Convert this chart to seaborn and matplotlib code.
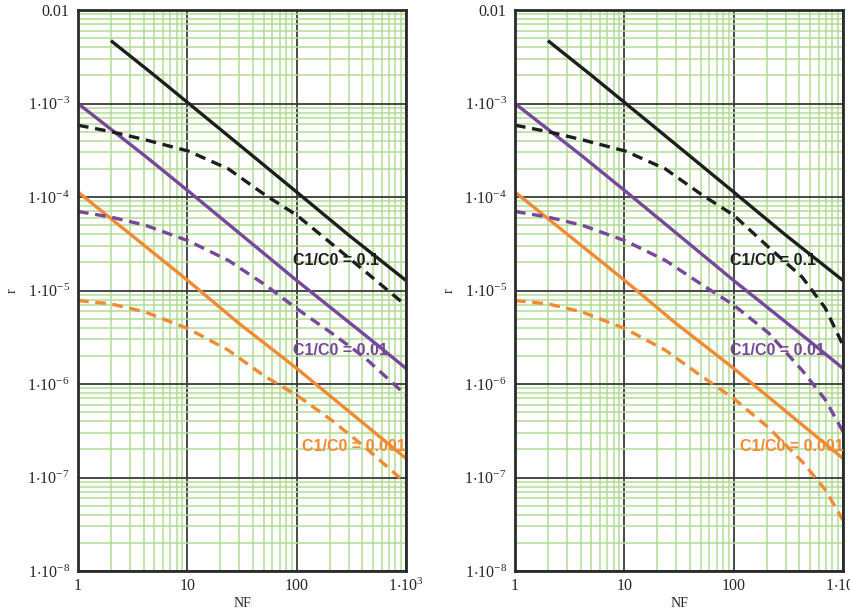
import numpy as np
import pandas as pd
import matplotlib
matplotlib.use("Agg")
import matplotlib.pyplot as plt
import seaborn as sns
from matplotlib.ticker import LogLocator, NullFormatter

# ---------------- data ----------------
nf_black_solid = [2, 5, 10, 35, 100, 300, 1000]
r_black_solid = [4.7e-3, 2.0e-3, 1.03e-3, 3.1e-4, 1.13e-4, 3.9e-5, 1.28e-5]

nf_purple_solid = [1, 4.1, 10, 100, 490, 1000]
r_purple_solid = [1.0e-3, 2.75e-4, 1.18e-4, 1.28e-5, 2.9e-6, 1.47e-6]

nf_orange_solid = [1, 10, 29.3, 100, 1000]
r_orange_solid = [1.13e-4, 1.29e-5, 4.5e-6, 1.47e-6, 1.6e-7]

nf_dashed = [1, 2, 4.1, 10.2, 23.7, 51.5, 100, 209, 423, 1000]
# left panel dashed curves
r_black_dash_L = [5.86e-4, 5.0e-4, 4.1e-4, 3.1e-4, 2.0e-4, 1.05e-4, 6.4e-5, 3.16e-5, 1.6e-5, 6.9e-6]
r_purple_dash_L = [7.0e-5, 6.1e-5, 5.0e-5, 3.4e-5, 2.1e-5, 1.15e-5, 6.4e-6, 3.5e-6, 1.9e-6, 7.6e-7]
r_orange_dash_L = [7.8e-6, 7.2e-6, 5.9e-6, 3.9e-6, 2.3e-6, 1.2e-6, 7.6e-7, 4.1e-7, 2.1e-7, 8.7e-8]

nf_dashed_R = [1, 2, 4.1, 10.2, 23.7, 51.5, 100, 209, 423, 688, 1000]
r_black_dash_R = [5.86e-4, 5.0e-4, 4.1e-4, 3.1e-4, 2.0e-4, 1.05e-4, 6.4e-5, 2.9e-5, 1.39e-5, 6.5e-6, 2.6e-6]
r_purple_dash_R = [7.0e-5, 6.1e-5, 5.0e-5, 3.4e-5, 2.1e-5, 1.15e-5, 7.0e-6, 3.5e-6, 1.4e-6, 6.8e-7, 3.1e-7]
r_orange_dash_R = [7.8e-6, 7.2e-6, 5.9e-6, 3.9e-6, 2.3e-6, 1.2e-6, 7.0e-7, 3.4e-7, 1.48e-7, 7.4e-8, 3.5e-8]

labels = ["C1/C0 = 0.1", "C1/C0 = 0.01", "C1/C0 = 0.001"]
x_ticks = [1, 10, 100, 1000]
x_tick_labels = ["1", "10", "100", r"$1{\cdot}10^{3}$"]
y_ticks = [1e-8, 1e-7, 1e-6, 1e-5, 1e-4, 1e-3, 1e-2]
y_tick_labels = [r"$1{\cdot}10^{-8}$", r"$1{\cdot}10^{-7}$", r"$1{\cdot}10^{-6}$",
                 r"$1{\cdot}10^{-5}$", r"$1{\cdot}10^{-4}$", r"$1{\cdot}10^{-3}$", "0.01"]

# ---------------- style ----------------
sns.set_style("white")
plt.rcParams["mathtext.fontset"] = "custom"
plt.rcParams["mathtext.rm"] = "Liberation Serif"
plt.rcParams["mathtext.default"] = "regular"
plt.rcParams["font.family"] = ["Liberation Serif", "DejaVu Serif"]

C_BLACK = "#1e1e1e"
C_PURPLE = "#76479b"
C_ORANGE = "#f28a33"
GRID_MINOR = "#b2dc95"
GRID_MAJOR = "#3a3a3a"
LW = 2.4
DASH = (0, (3.2, 2.0))

fig = plt.figure(figsize=(8.5, 6.14), dpi=100)
W, H = 850.0, 614.0
axL = fig.add_axes([78 / W, 1 - 571 / H, 328 / W, 561 / H])
axR = fig.add_axes([515 / W, 1 - 571 / H, 328 / W, 561 / H])

panels = [
    (axL, nf_dashed, [r_black_dash_L, r_purple_dash_L, r_orange_dash_L]),
    (axR, nf_dashed_R, [r_black_dash_R, r_purple_dash_R, r_orange_dash_R]),
]

solids = [(nf_black_solid, r_black_solid), (nf_purple_solid, r_purple_solid),
          (nf_orange_solid, r_orange_solid)]
colors = [C_BLACK, C_PURPLE, C_ORANGE]
label_pos_x = {axL: [92.7, 92.7, 112], axR: [92.7, 92.7, 114]}
label_pos_y = [2.1e-5, 2.3e-6, 2.17e-7]

for ax, nfd, dashed in panels:
    ax.set_xscale("log")
    ax.set_yscale("log")
    for (nf, r), col in zip(solids, colors):
        df = pd.DataFrame({"NF": nf, "r": r})
        sns.lineplot(data=df, x="NF", y="r", ax=ax, color=col, lw=LW,
                     solid_capstyle="butt", zorder=4)
    for r, col in zip(dashed, colors):
        df = pd.DataFrame({"NF": nfd, "r": r})
        sns.lineplot(data=df, x="NF", y="r", ax=ax, color=col, lw=LW,
                     linestyle=DASH, zorder=4)
    ax.set_xlim(1, 1000)
    ax.set_ylim(1e-8, 1e-2)

    ax.set_xticks(x_ticks)
    ax.set_xticklabels(x_tick_labels)
    ax.set_yticks(y_ticks)
    ax.set_yticklabels(y_tick_labels)
    ax.xaxis.set_minor_locator(LogLocator(base=10, subs=np.arange(2, 10), numticks=20))
    ax.yaxis.set_minor_locator(LogLocator(base=10, subs=np.arange(2, 10), numticks=20))
    ax.xaxis.set_minor_formatter(NullFormatter())
    ax.yaxis.set_minor_formatter(NullFormatter())

    ax.grid(which="minor", color=GRID_MINOR, lw=1.1)
    ax.grid(which="major", color=GRID_MAJOR, lw=1.3)
    ax.set_axisbelow(True)
    ax.tick_params(which="both", length=0)
    ax.tick_params(axis="x", pad=5, labelsize=11.5)
    ax.tick_params(axis="y", pad=6, labelsize=11.5)
    for s in ax.spines.values():
        s.set_color("#2a2a2a")
        s.set_linewidth(2.0)
        s.set_zorder(5)

    ax.set_xlabel("NF", fontsize=10, labelpad=1)
    ax.set_ylabel("r", fontsize=10, labelpad=6)

    for lab, col, xp, yp in zip(labels, colors, label_pos_x[ax], label_pos_y):
        ax.text(xp, yp, lab, color=col, fontsize=11.5, fontweight="bold",
                family="Liberation Sans", ha="left", va="center", zorder=6,
                clip_on=False)

fig.savefig("out.png", dpi=100)
